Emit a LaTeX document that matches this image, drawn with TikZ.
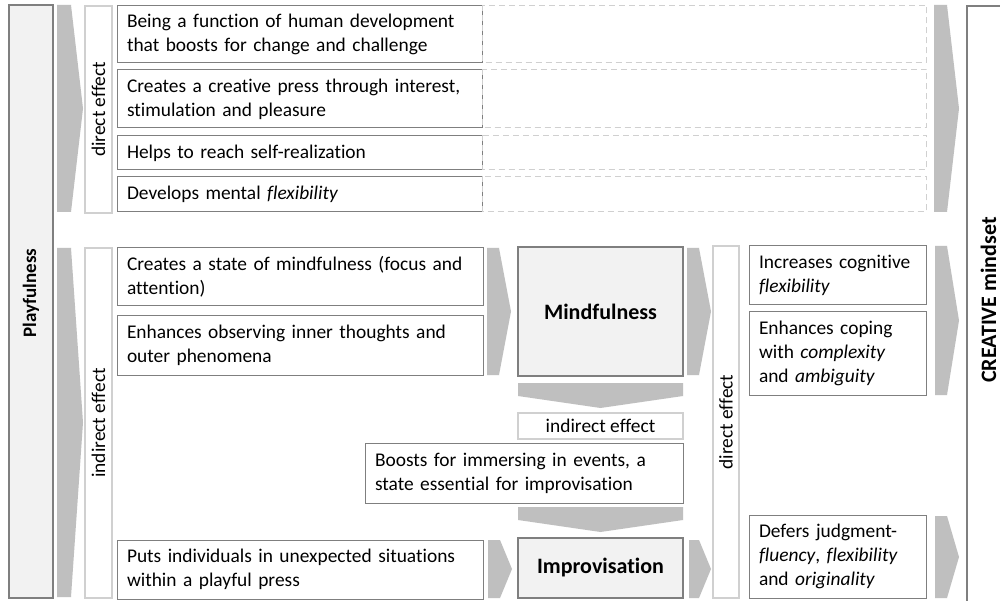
\documentclass[tikz,border=0pt]{standalone}
\usepackage{fontspec}
\setmainfont{Carlito}[Ligatures=NoCommon]
\usepackage{tikz}
\usetikzlibrary{positioning}
\definecolor{boxline}{HTML}{7F7F7F}
\definecolor{faintline}{HTML}{D0D0D0}
\definecolor{chevgray}{HTML}{BFBFBF}
\definecolor{headfill}{HTML}{F2F2F2}
\tikzset{
    item/.style={
        draw=boxline,
        line width=1pt,
        fill=white,
        inner xsep=10pt,
        inner ysep=0pt,
        align=left,
        font=\fontsize{19.4}{24}\selectfont
    },
    tag/.style={
        draw=faintline,
        line width=1.5pt,
        fill=white,
        inner sep=0pt,
        font=\fontsize{19.4}{24}\selectfont
    },
    head/.style={
        draw=boxline,
        line width=2pt,
        fill=headfill,
        inner sep=0pt,
        font=\fontsize{22}{26}\selectfont\bfseries
    },
    ghost/.style={
        draw=faintline,
        dash pattern=on 6pt off 4pt,
        line width=1pt
    }
}
% chevron pointing right: x from #1 to #2, y from #3 (top) to #4 (bottom)
\newcommand{\rchev}[4]{\fill[chevgray] (#1,#3) -- ({#2-12},#3) -- (#2,{(#3+#4)/2}) -- ({#2-12},#4) -- (#1,#4) -- cycle;}
% chevron pointing down: x from #1 to #2, y from #3 (top) to #4 (tip)
\newcommand{\dchev}[4]{\fill[chevgray] (#1,#3) -- (#2,#3) -- (#2,{#3-13}) -- ({(#1+#2)/2},#4) -- (#1,{#3-13}) -- cycle;}

\begin{document}
\begin{tikzpicture}[x=1pt, y=1pt]
\clip (0,0) rectangle (1000,600);
\fill[white] (0,0) rectangle (1000,600);

% Outer columns
\draw[draw=boxline, line width=2pt, fill=headfill] (9,595) rectangle (53,2);
\node[font=\fontsize{19}{22}\selectfont\bfseries, rotate=90] (play) at (31,307) {Playfulness};
\draw[draw=boxline, line width=2pt, fill=white] (967,594) rectangle (1015,-20);
\node[font=\fontsize{22}{26}\selectfont\bfseries, rotate=90] (creative) at (988.5,300) {CREATIVE mindset};

% Direct effects of playfulness
\rchev{57}{83}{595}{388}
\node[tag, rotate=90, minimum width=207pt, minimum height=27pt] (dir1) at (98.5,490.5) {direct effect};
\node[item, text width=345pt, minimum height=57pt] (t1) at (299.5,565.5) {Being a function of human development\\that boosts for change and challenge};
\node[item, text width=345pt, minimum height=58pt] (t2) at (299.5,501) {Creates a creative press through interest,\\stimulation and pleasure};
\node[item, text width=345pt, minimum height=34pt] (t3) at (299.5,447) {Helps to reach self-realization};
\node[item, text width=345pt, minimum height=35pt] (t4) at (299.5,405.5) {Develops mental \textit{flexibility}};
\draw[ghost] (t1.north east) rectangle ++(444,-57);
\draw[ghost] (t2.north east) rectangle ++(444,-58);
\draw[ghost] (t3.north east) rectangle ++(444,-34);
\draw[ghost] (t4.north east) rectangle ++(444,-35);
\rchev{934}{959}{595}{388}

% Indirect effects of playfulness
\rchev{57}{83}{352}{3}
\node[tag, rotate=90, minimum width=350pt, minimum height=27pt] (ind1) at (98.5,177) {indirect effect};
\node[item, text width=346pt, minimum height=58pt] (c1) at (300,323) {Creates a state of mindfulness (focus and\\attention)};
\node[item, text width=346pt, minimum height=59pt] (c2) at (300,254.5) {Enhances observing inner thoughts and\\outer phenomena};
\node[item, text width=346pt, minimum height=59pt] (c3) at (300,30.5) {Puts individuals in unexpected situations\\within a playful press};

% Mindfulness and improvisation
\rchev{487}{511}{352}{225}
\node[head, minimum width=165pt, minimum height=129pt] (mind) at (600.5,288.5) {Mindfulness};
\rchev{687}{711}{352}{225}
\dchev{518}{683}{217}{192}
\node[tag, minimum width=165pt, minimum height=26pt] (ind2) at (600.5,174) {indirect effect};
\node[item, text width=298pt, minimum height=60pt] (boost) at (524,127) {Boosts for immersing in events, a\\state essential for improvisation};
\dchev{518}{683}{93}{68}
\rchev{488}{512}{60}{2}
\node[head, minimum width=165pt, minimum height=60pt] (impro) at (600.5,32) {Improvisation};
\rchev{689}{711}{60}{2}

% Direct effects on the creative mindset
\node[tag, rotate=90, minimum width=352pt, minimum height=26pt] (dir2) at (726,178) {direct effect};
\node[item, text width=157pt, minimum height=59pt] (r1) at (837.5,324.5) {Increases cognitive\\\textit{flexibility}};
\node[item, text width=157pt, minimum height=83pt] (r2) at (837.5,246.5) {Enhances coping\\with \textit{complexity}\\and \textit{ambiguity}};
\node[item, text width=157pt, minimum height=83pt] (r3) at (837.5,43.5) {Defers judgment-\\\textit{fluency}, \textit{flexibility}\\and \textit{originality}};
\rchev{935}{959}{354}{205}
\rchev{935}{959}{84}{2}
\end{tikzpicture}
\end{document}
